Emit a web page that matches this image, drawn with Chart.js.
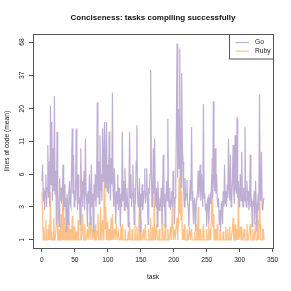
<!DOCTYPE html>
<html><head><meta charset="utf-8">
<script src="https://cdn.jsdelivr.net/npm/chart.js@4/dist/chart.umd.min.js"></script>
<style>html,body{margin:0;padding:0;background:#fff;}canvas{display:block;}</style>
</head><body>
<canvas id="c" width="291" height="291"></canvas>
<script>
const seriesNames = ['Go', 'Ruby'];
const seriesColors = ['#BEAED4', '#FDC086'];
const xTickValues = [0, 50, 100, 150, 200, 250, 300, 350];
const yTickValues = [1.8, 3.3, 6.0, 11, 20, 37, 68];
const yTickLabels = ['1', '3', '6', '11', '20', '37', '68'];

const goValues = [
5.3,7.2,3.7,4.7,3.1,4.4,6.0,3.3,4.7,10.3,
3.9,7.6,3.3,21.2,5.0,15.7,3.7,9.7,4.4,25.3,
4.2,6.4,2.4,13.1,4.4,3.3,2.3,5.6,3.7,4.7,
3.5,4.4,7.2,3.1,5.0,3.3,3.9,2.1,4.2,3.7,
2.4,4.4,5.3,3.5,3.3,6.7,13.9,4.2,8.6,3.3,
4.4,3.7,13.9,5.0,3.1,6.0,3.5,3.9,2.4,9.7,
3.7,5.3,3.3,4.7,6.4,3.1,11.6,4.2,3.7,2.3,
4.4,3.5,6.0,2.4,3.9,7.2,3.3,4.2,2.1,5.0,
3.7,6.0,3.3,4.7,22.5,3.9,7.6,3.5,12.3,4.4,
6.0,3.7,13.9,5.3,8.1,15.7,4.7,6.7,15.7,4.4,
7.2,4.2,13.1,5.6,3.7,8.1,5.0,26.9,4.7,3.3,
6.7,3.9,2.4,4.4,3.5,6.0,3.1,4.7,3.7,2.3,
4.2,3.3,13.1,3.7,5.3,3.1,6.7,3.9,3.3,4.7,
3.5,2.3,4.4,13.1,3.9,6.0,3.3,4.2,7.2,3.7,
2.4,4.7,3.5,7.6,14.7,4.4,3.3,3.9,5.6,2.1,
4.2,3.3,5.0,3.1,3.7,4.4,6.7,3.5,4.2,6.7,
3.9,2.4,4.7,4.2,6.0,40.9,6.4,3.3,4.4,9.7,
4.2,11.6,3.7,3.3,4.7,2.3,5.3,3.5,3.1,3.9,
3.3,4.7,2.4,3.7,8.6,3.3,4.2,2.3,3.5,5.3,
3.7,16.6,3.9,3.3,4.7,3.1,3.7,4.4,3.3,6.4,
4.2,2.4,3.9,5.3,14.7,66,5.6,19.9,6.7,60,
8.1,4.7,38.5,9.7,7.6,4.4,3.3,5.6,3.7,4.2,
5.4,3.5,3.3,2.3,3.9,5.4,3.7,14.3,4.4,3.3,
2.4,3.7,3.9,2.1,3.3,3.3,4.4,6.4,3.9,5.0,
7.2,3.7,6.0,4.7,3.3,21.7,3.9,4.2,3.1,3.5,
2.3,3.7,3.9,2.4,3.3,4.2,3.5,4.7,6.0,3.9,
22.9,5.3,4.4,9.7,4.2,6.0,3.7,3.3,3.9,2.4,
3.1,2.1,3.5,3.7,2.4,4.4,3.3,7.2,3.5,4.4,
3.3,5.0,3.9,11.6,4.7,3.7,8.6,3.3,3.9,5.3,
10.3,4.4,3.5,12.3,4.7,4.2,17.0,3.9,5.3,3.3,
4.4,6.0,3.7,9.1,4.2,3.3,4.7,3.7,14.3,3.9,
3.3,5.3,3.7,4.4,3.1,3.9,8.6,3.3,3.9,2.3,
3.7,3.3,4.4,2.4,5.3,3.5,2.1,3.3,4.2,3.1,
25.9,4.4,3.7,9.1,3.3,3.1,3.7,3.9
];

const rubyValues = [
4.3,2.9,1.8,2.3,1.8,1.8,2.6,1.8,1.8,2.2,
1.8,2.4,1.8,4.3,1.8,2.1,1.8,1.8,2.7,1.8,
1.8,1.8,2.4,5.2,1.8,1.8,2.2,1.8,1.8,2.9,
1.8,1.8,5.6,1.8,2.7,1.8,1.8,2.3,1.8,1.8,
2.5,1.8,1.8,2.2,1.8,1.8,2.8,1.8,1.8,2.3,
1.8,1.8,2.1,1.8,1.8,2.6,1.8,1.8,1.8,7.3,
1.8,2.2,2.9,1.8,1.8,2.4,1.8,1.8,1.8,2.2,
1.8,1.8,2.5,1.8,1.8,2.8,1.8,1.8,2.2,1.8,
1.8,2.4,1.8,1.8,2.1,2.9,1.8,1.8,2.3,3.3,
1.8,1.8,2.6,1.8,2.4,13.7,2.2,3.3,1.8,2.5,
1.8,1.8,2.2,1.8,1.8,2.7,1.8,2.9,1.8,1.8,
2.2,1.8,1.8,2.4,1.8,1.8,2.1,1.8,1.8,1.8,
2.3,1.8,2.4,1.8,1.8,1.8,2.2,1.8,1.8,1.8,
1.8,2.1,1.8,2.5,1.8,1.8,1.8,2.2,1.8,1.8,
1.8,2.4,1.8,1.8,2.3,1.8,1.8,2.2,3.7,1.8,
2.7,1.8,1.8,1.8,2.2,1.8,1.8,2.4,1.8,1.8,
1.8,1.8,2.2,1.8,1.8,2.7,1.8,1.8,2.3,1.8,
5.1,2.3,1.8,1.8,2.4,1.8,1.8,1.8,2.2,1.8,
1.8,1.8,2.3,2.9,1.8,1.8,1.8,2.4,1.8,1.8,
1.8,2.2,1.8,1.8,1.8,2.3,1.8,1.8,3.3,1.8,
1.8,2.2,1.8,1.8,2.4,2.7,1.8,2.5,5.6,2.9,
14.1,2.6,4.4,1.8,2.2,1.8,2.4,1.8,1.8,1.8,
2.2,1.8,1.8,1.8,2.3,1.8,1.8,2.2,1.8,1.8,
1.8,1.8,2.1,1.8,1.8,2.4,1.8,3.3,1.8,1.8,
2.2,1.8,1.8,1.8,2.1,2.4,1.8,1.8,1.8,1.8,
2.2,1.8,1.8,2.4,1.8,2.2,1.8,2.7,8.1,2.3,
2.9,1.8,1.8,2.2,1.8,1.8,2.4,1.8,1.8,1.8,
2.2,1.8,1.8,1.8,1.8,2.1,1.8,1.8,1.8,2.3,
1.8,1.8,2.2,1.8,1.8,2.3,1.8,1.8,1.8,2.2,
2.7,1.8,1.8,2.4,1.8,1.8,2.2,1.8,4.4,1.8,
1.8,2.3,1.8,2.3,1.8,1.8,1.8,2.2,1.8,1.8,
1.8,2.4,1.8,1.8,1.8,2.2,2.4,1.8,1.8,1.8,
2.2,1.8,1.8,1.8,2.5,1.8,1.8,1.8,2.6,1.8,
6.0,2.4,1.8,1.8,1.8,2.2,2.2,1.8
];

const FONT = "'Liberation Sans', Arial, Helvetica, sans-serif";
const TXT = '#222';
const FRAME = '#555';

const boxPlugin = {
  id: 'rbox',
  afterDraw(chart) {
    const a = chart.chartArea, ctx = chart.ctx;
    ctx.save();
    ctx.strokeStyle = FRAME; ctx.lineWidth = 1;
    ctx.strokeRect(Math.round(a.left) + 0.5, Math.round(a.top) + 0.5,
      Math.round(a.right - a.left), Math.round(a.bottom - a.top));
    // legend
    const lx = 229.5, ly = a.top + 0.5, lw = Math.round(a.right) - 229, lh = 24.5;
    ctx.fillStyle = '#fff';
    ctx.fillRect(lx, ly, lw, lh);
    ctx.strokeRect(lx, ly, lw, lh);
    ctx.font = '6.67px ' + FONT;
    ctx.textBaseline = 'middle';
    ctx.textAlign = 'left';
    chart.data.datasets.forEach((ds, i) => {
      const y = 42.5 + i * 8.7;
      ctx.strokeStyle = ds.borderColor; ctx.lineWidth = 1.2;
      ctx.beginPath(); ctx.moveTo(235.5, y); ctx.lineTo(249, y); ctx.stroke();
      ctx.fillStyle = TXT;
      ctx.fillText(ds.label, 255, y);
    });
    ctx.restore();
  }
};

new Chart(document.getElementById('c'), {
  type: 'line',
  data: {
    datasets: [
      { label: seriesNames[0], data: goValues.map((v, i) => ({ x: i, y: v })),
        borderColor: seriesColors[0], borderWidth: 1.2, pointRadius: 0, tension: 0, fill: false },
      { label: seriesNames[1], data: rubyValues.map((v, i) => ({ x: i, y: v })),
        borderColor: seriesColors[1], borderWidth: 1.2, pointRadius: 0, tension: 0, fill: false }
    ]
  },
  options: {
    responsive: false, animation: false, devicePixelRatio: 1,
    layout: { padding: { left: 0, right: 18, top: 0, bottom: 0 } },
    plugins: {
      legend: { display: false }, tooltip: { enabled: false },
      title: { display: true, fullSize: false, text: 'Conciseness: tasks compiling successfully', color: '#111',
        font: { family: FONT, size: 8, weight: 'bold', lineHeight: 1.2 },
        padding: { top: 13, bottom: 11.4 } }
    },
    scales: {
      x: {
        type: 'linear', min: -13.5, max: 350.5,
        afterBuildTicks: s => { s.ticks = xTickValues.map(v => ({ value: v })); },
        afterFit: s => { s.height = 43; },
        grid: { drawOnChartArea: false, drawTicks: true, tickLength: 4, color: FRAME },
        border: { display: false },
        ticks: { color: TXT, font: { family: FONT, size: 6.67 }, padding: 4, maxRotation: 0, autoSkip: false },
        title: { display: true, text: 'task', color: TXT, font: { family: FONT, size: 6.67, lineHeight: 1.2 },
          padding: { top: 0, bottom: 9.7 } }
      },
      y: {
        type: 'logarithmic', min: 1.554, max: 78.75,
        afterBuildTicks: s => { s.ticks = yTickValues.map(v => ({ value: v })); },
        afterFit: s => { s.width = 33; },
        grid: { drawOnChartArea: false, drawTicks: true, tickLength: 4, color: FRAME },
        border: { display: false },
        ticks: { color: TXT, font: { family: FONT, size: 6.67 }, padding: 3.3, minRotation: 90, maxRotation: 90,
          crossAlign: 'center', autoSkip: false,
          callback: (v, i) => yTickLabels[i] },
        title: { display: true, text: 'lines of code (mean)', color: TXT,
          font: { family: FONT, size: 6.67, lineHeight: 1.2 }, padding: { top: 3.5, bottom: 0 } }
      }
    }
  },
  plugins: [boxPlugin]
});
</script>
</body></html>
